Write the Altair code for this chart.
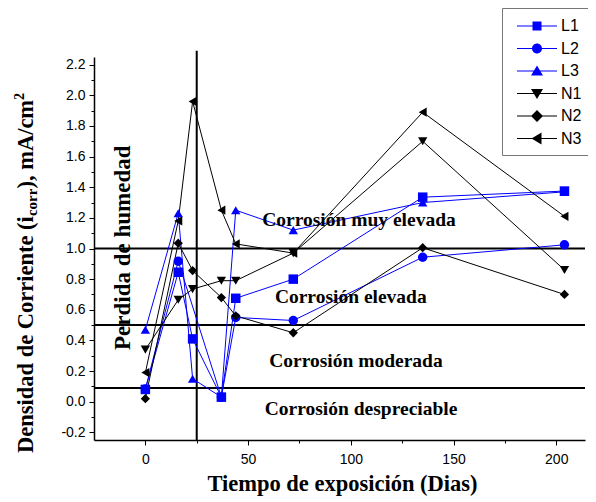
import altair as alt
import pandas as pd

# ---------------- data ----------------
days = [0, 16, 23, 37, 44, 72, 135, 204]
series_names = ["L1", "L2", "L3", "N1", "N2", "N3"]
L1 = [0.08, 0.845, 0.41, 0.03, 0.675, 0.80, 1.335, 1.375]
L2 = [0.083, 0.917, None, 0.03, 0.55, 0.53, 0.943, 1.024]
L3 = [0.47, 1.23, 0.15, 0.03, 1.25, 1.12, 1.30, 1.37]
N1 = [0.34, 0.665, 0.735, 0.79, 0.79, 0.97, 1.70, 0.86]
N2 = [0.02, 1.035, 0.856, 0.68, 0.56, 0.45, 1.005, 0.70]
N3 = [0.19, 1.18, 1.96, 1.25, 1.03, 0.97, 1.89, 1.21]

limits = [1.0, 0.5, 0.09]
wet_day = [25]
wet_span = [-0.25, 2.29]

zones = ["Corrosión muy elevada", "Corrosión elevada", "Corrosión moderada", "Corrosión despreciable"]
zone_x = [104, 100, 102.5, 105]
zone_y = [1.147, 0.646, 0.228, -0.087]

x_major = [0, 50, 100, 150, 200]
x_minor = [25, 75, 125, 175]
y_major = [round(-0.2 + 0.2 * i, 1) for i in range(13)]
y_minor = [round(-0.1 + 0.2 * i, 1) for i in range(12)]

x_title = "Tiempo de exposición (Dias)"
y_title_parts = ["Densidad de Corriente (i", "corr", "), mA/cm", "2"]
wet_label = "Perdida de humedad"

rows = []
for name, vals in zip(series_names, [L1, L2, L3, N1, N2, N3]):
    for d, v in zip(days, vals):
        if v is not None:
            rows.append({"dia": d, "icorr": v, "serie": name})
df = pd.DataFrame(rows)

# ---------------- styling ----------------
colors = ["#0000ff", "#0000ff", "#0000ff", "#000000", "#000000", "#000000"]
plot_shapes = ["square", "circle", "triangle-up", "triangle-down", "diamond", "triangle-left"]
plot_sizes = [90, 85, 140, 140, 140, 140]

line_part = "M-2,-0.05H2V0.05H-2Z "
legend_shapes = [
    line_part + "M-0.45,-0.45H0.45V0.45H-0.45Z",
    line_part + "M-0.5,0A0.5,0.5 0 1,1 0.5,0A0.5,0.5 0 1,1 -0.5,0Z",
    line_part + "M0,-0.55L0.6,0.45H-0.6Z",
    line_part + "M0,0.55L-0.6,-0.45H0.6Z",
    line_part + "M0,-0.6L0.6,0L0,0.6L-0.6,0Z",
    line_part + "M-0.55,0L0.45,-0.6V0.6Z",
]

W, H = 491, 383
SERIF = "Liberation Serif"
SANS = "Liberation Sans"

x_scale = alt.Scale(domain=[-25, 214], nice=False, zero=False)
y_scale = alt.Scale(domain=[-0.25, 2.25], nice=False, zero=False)
color_scale = alt.Scale(domain=series_names, range=colors)

x_axis = alt.Axis(orient="bottom", values=x_major, title=None, grid=False,
                  domainColor="black", domainWidth=1.5, tickColor="black",
                  tickSize=5, tickWidth=1, labelFont=SANS, labelFontSize=14,
                  labelColor="black", labelPadding=7, labelOverlap=False,
                  labelFlush=False)
y_axis = alt.Axis(orient="left", values=y_major, title=None, grid=False,
                  domainColor="black", domainWidth=1.5, tickColor="black",
                  tickSize=5, tickWidth=1, labelFont=SANS, labelFontSize=14,
                  labelColor="black", labelPadding=4, labelOverlap=False,
                  labelFlush=False,
                  labelExpr="datum.value < 0 ? '-' + format(-datum.value, '.1f') : format(datum.value, '.1f')")
x_minor_axis = alt.Axis(orient="bottom", values=x_minor, title=None, grid=False,
                        labels=False, domain=False, tickColor="black",
                        tickSize=3, tickWidth=1)
y_minor_axis = alt.Axis(orient="left", values=y_minor, title=None, grid=False,
                        labels=False, domain=False, tickColor="black",
                        tickSize=3, tickWidth=1)

base = alt.Chart(df)

lines = base.mark_line(strokeWidth=1, opacity=1).encode(
    x=alt.X("dia:Q", scale=x_scale, axis=x_axis),
    y=alt.Y("icorr:Q", scale=y_scale, axis=y_axis),
    color=alt.Color("serie:N", scale=color_scale, legend=None),
)

points = base.mark_point(filled=True, opacity=1, strokeWidth=0).encode(
    x=alt.X("dia:Q", scale=x_scale, axis=None),
    y=alt.Y("icorr:Q", scale=y_scale, axis=None),
    color=alt.Color("serie:N", scale=color_scale, legend=None),
    shape=alt.Shape("serie:N", scale=alt.Scale(domain=series_names, range=plot_shapes), legend=None),
    size=alt.Size("serie:N", scale=alt.Scale(domain=series_names, range=plot_sizes), legend=None),
)

legend_props = dict(title=None, orient="none", legendX=408, legendY=-49,
                    symbolSize=400, symbolStrokeWidth=0, symbolOpacity=1,
                    symbolOffset=17, labelOffset=14, rowPadding=4.5, padding=8,
                    fillColor="white", strokeColor="#777777", cornerRadius=0,
                    labelFont=SANS, labelFontSize=16, labelColor="black")

legend_layer = base.transform_filter("datum.dia < -1000").mark_point(
    filled=True, opacity=1, strokeWidth=0).encode(
    x=alt.X("dia:Q", scale=x_scale, axis=None),
    y=alt.Y("icorr:Q", scale=y_scale, axis=None),
    color=alt.Color("serie:N", scale=color_scale, legend=alt.Legend(**legend_props)),
    shape=alt.Shape("serie:N", scale=alt.Scale(domain=series_names, range=legend_shapes),
                    legend=alt.Legend(**legend_props)),
)

hrules = alt.Chart(pd.DataFrame({"lim": limits})).mark_rule(color="black", strokeWidth=2).encode(
    y=alt.Y("lim:Q", scale=y_scale, axis=y_minor_axis),
)

vrule = alt.Chart(pd.DataFrame({"d": wet_day, "y0": [wet_span[0]], "y1": [wet_span[1]]})).mark_rule(
    color="black", strokeWidth=2).encode(
    x=alt.X("d:Q", scale=x_scale, axis=x_minor_axis),
    y=alt.Y("y0:Q", scale=y_scale, axis=None),
    y2="y1:Q",
)

zone_text = alt.Chart(pd.DataFrame({"t": zones, "x": zone_x, "y": zone_y})).mark_text(
    font=SERIF, fontWeight="bold", fontSize=19.5, align="center", baseline="alphabetic",
    color="black").encode(
    x=alt.X("x:Q", scale=x_scale, axis=None),
    y=alt.Y("y:Q", scale=y_scale, axis=None),
    text="t:N",
)


def label(txt, px, py, size, angle=0, align="center"):
    return alt.Chart(pd.DataFrame({"t": [txt]})).mark_text(
        font=SERIF, fontWeight="bold", fontSize=size, align=align,
        baseline="alphabetic", angle=angle, color="black").encode(
        x=alt.value(px), y=alt.value(py), text="t:N")


xt = label(x_title, 248.5, 434, 22.5)
wet = label(wet_label, 36, 293, 23, angle=270, align="left")
yb = 396
yt1 = label(y_title_parts[0], -61, yb, 22.5, angle=270, align="left")
yt2 = label(y_title_parts[1], -57, yb - 236.9, 15, angle=270, align="left")
yt3 = label(y_title_parts[2], -61, yb - 264.4, 22.5, angle=270, align="left")
yt4 = label(y_title_parts[3], -70, yb - 353.1, 14, angle=270, align="left")

chart = alt.layer(
    hrules, vrule, lines, points, zone_text, legend_layer, xt, wet, yt1, yt2, yt3, yt4
).resolve_scale(
    color="independent", shape="independent", size="independent"
).resolve_axis(
    x="independent", y="independent"
).properties(
    width=W, height=H,
    autosize=alt.AutoSizeParams(type="none"),
    padding={"left": 86, "top": 49, "right": 3, "bottom": 62},
    background="white",
).configure_view(stroke=None)

chart.save("out.html", embed_options={"renderer": "svg", "actions": False})
